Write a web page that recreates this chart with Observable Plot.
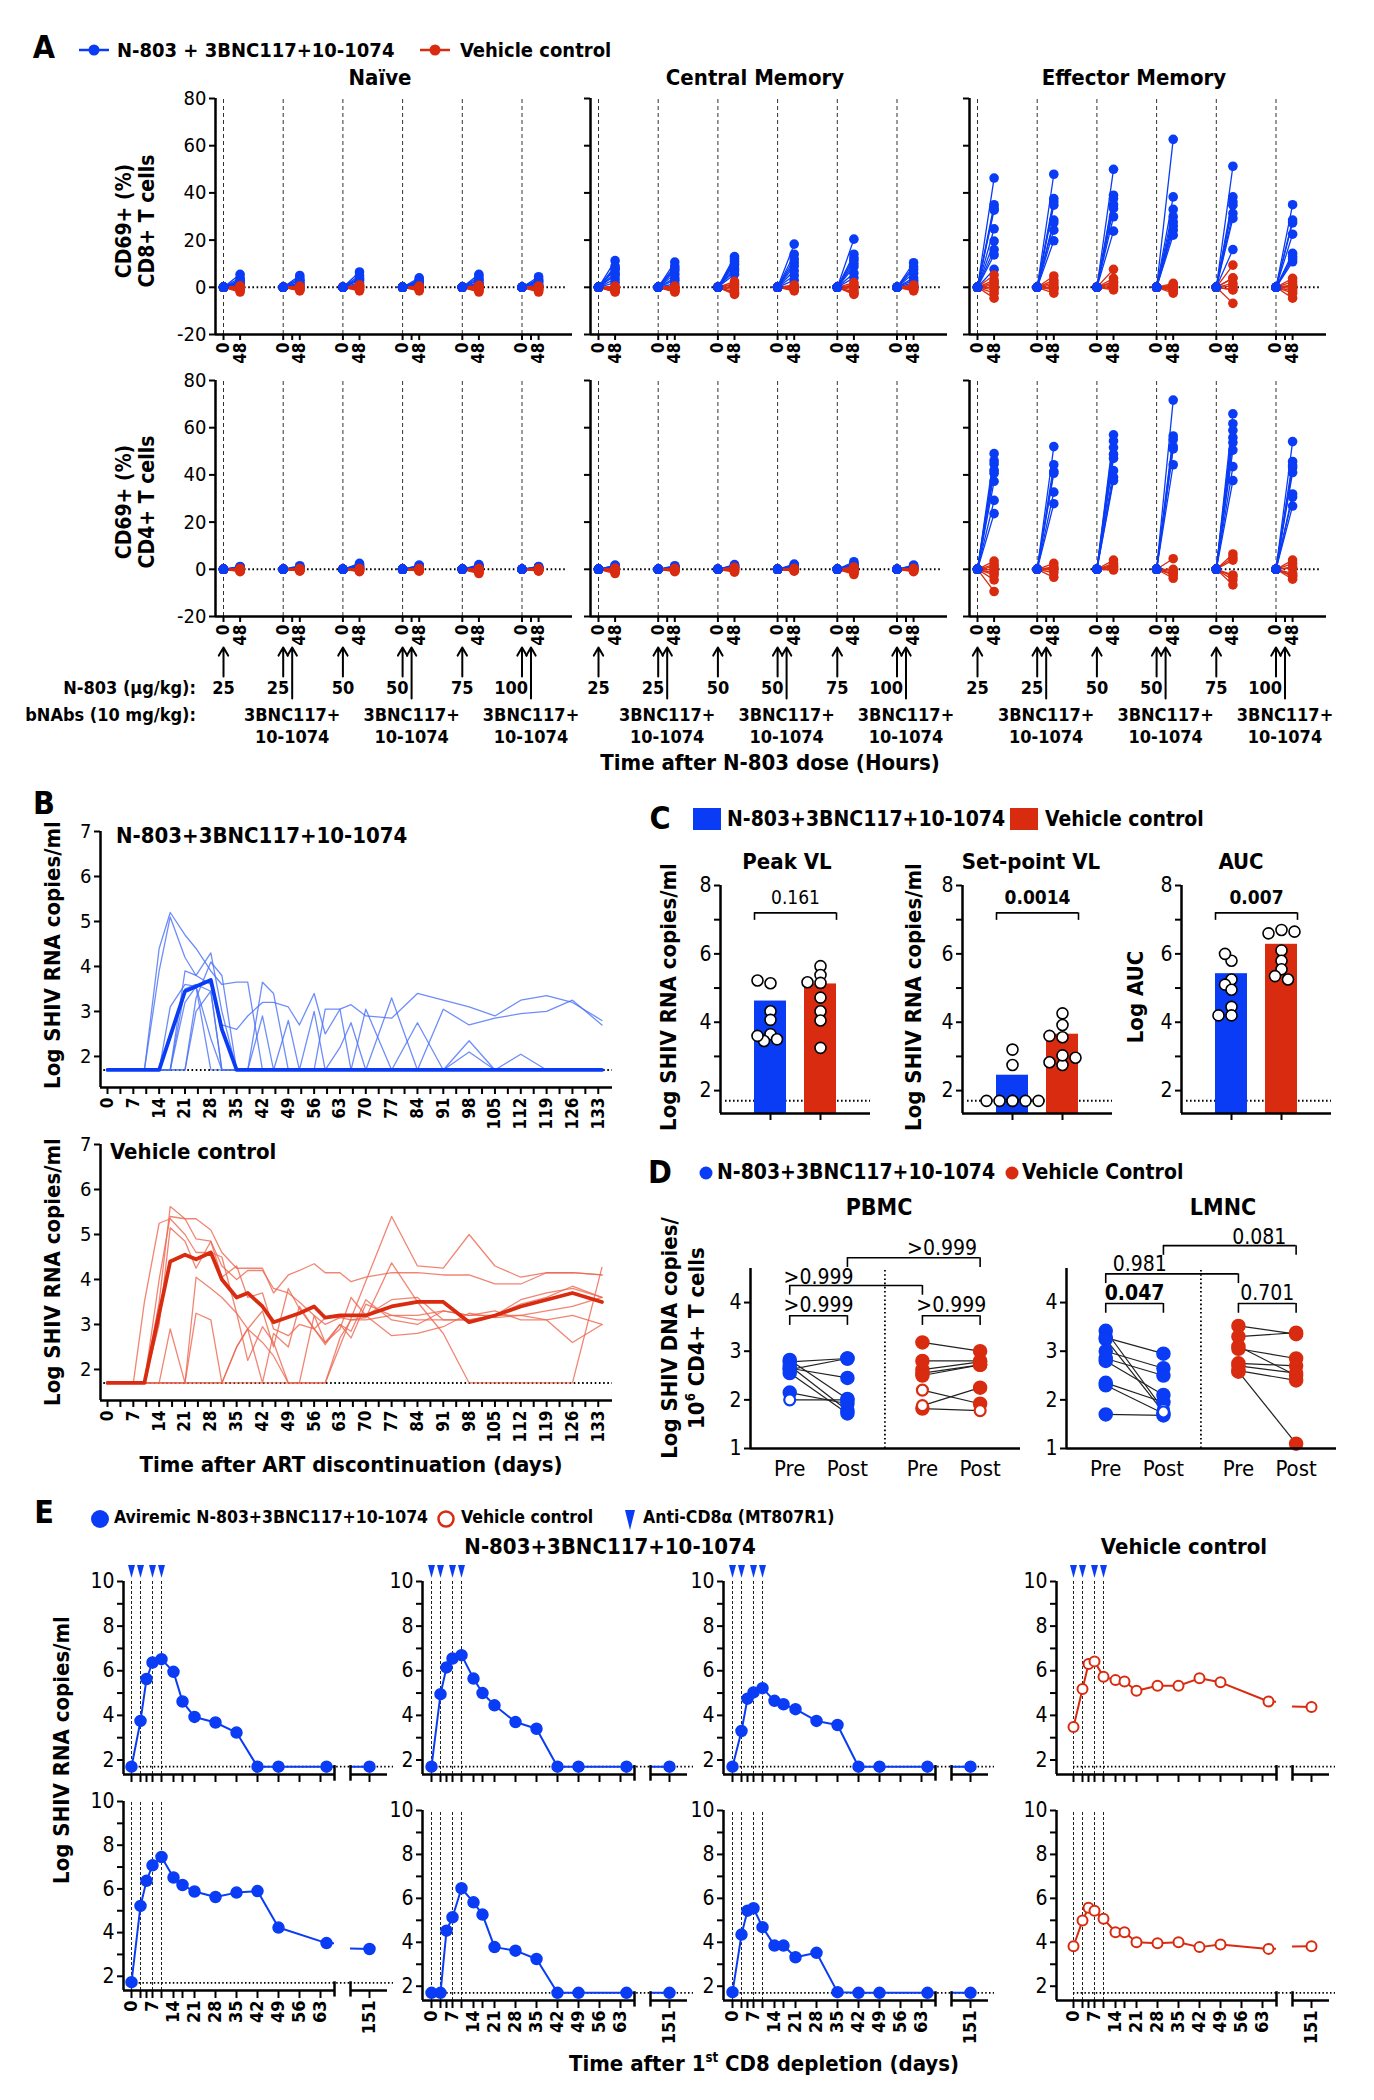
<!DOCTYPE html>
<html><head><meta charset="utf-8">
<script src="https://cdn.jsdelivr.net/npm/d3@7"></script>
<script src="https://cdn.jsdelivr.net/npm/@observablehq/plot@0.6"></script>
<style>
html,body{margin:0;padding:0;background:#fff;}
#fig{position:relative;width:1374px;height:2100px;overflow:hidden;font-family:"Liberation Sans Narrow","Arial Narrow","DejaVu Sans Condensed",sans-serif;color:#000;}
.t{position:absolute;white-space:nowrap;line-height:1;}
</style></head><body><div id="fig"></div>
<script>
// ================= DATA =================
// ---- Panel A: CD69+ (%) change at 48 h after each N-803 dose (6 doses), per animal ----
const aDoses = [25, 25, 50, 50, 75, 100];
const aBnab = [false, true, false, true, false, true];
const aBnabHour = 26;
const aSubsets = ["Naïve", "Central Memory", "Effector Memory"];
const a8NaiveN = [[5.5,4,3,2.5,1.5,1,2,0.5],[5,4,3,2,1,1.5,0.5,3],[6.5,5,4,3,2,1,3.5,0.5],[4,3,2,1,1.5,0.5,2.5,3],[5.5,4.5,3,2,1,0.5,3.5,1.5],[4.5,3,2,1,0.5,2.5,1,3.5]];
const a8NaiveV = [[-2,-1,0,0.5,-0.5,-1.5,-0.5,0.5],[-1.5,-1,0,0.5,-0.5,0,-1,0],[-1.5,-1,0,0.5,1,-0.5,0,-0.8],[-1.5,-1,0,0.5,-0.5,0,-0.7,0.3],[-2,-1.5,0,0.5,-0.5,-1,0.8,-0.3],[-2,-1,0,0.5,-0.5,-1.5,0.3,-0.8]];
const a8CmN = [[11.3,9,7.5,6,5,3.5,2,8],[10.7,9,7,5.5,4,3,1.5,8],[13,12,11,9.5,8,7,5.5,10],[18.3,14,10.5,9,7,5,3,12],[20.4,14,12.5,11.5,10,8.7,6,4],[10.4,8.7,7.5,6,4,3,2,1]];
const a8CmV = [[-2,-1.5,-1,-0.5,0,0.5,-1.8,-0.3],[-2,-1.5,-1,0,0.5,-0.5,-1.8,-0.3],[-3,-2,-1,0,1,2.5,-2.5,1.5],[-1.5,-1,-0.5,0,0.5,1,-0.8,0.3],[-3,-2,-1,0,1,2,-2.5,0.5],[-1.5,-1,-0.5,0,0.5,1,-0.8,0.3]];
const a8EmN = [[46.3,35,33.6,32.7,24.8,19.6,16,13.7,7.6],[47.9,37.6,36.2,34.8,28.5,27.3,24.2,19.7],[50,39,37.6,35,33.4,29.9,23.8],[62.7,38.3,33,29.9,27.7,26,24.2,22.1],[51.3,38.3,36.2,34.8,31.3,29.2,16],[35,28.5,27.3,22.5,14.4,13,10.8,12]];
const a8EmV = [[5.2,3,1,-1,-2.5,-4.6,2,0],[4.8,3,1,-1,-2.5,0,2,-0.5],[7.6,3.8,2.4,0.3,-1.1,1,2,-0.5],[1.7,-0.4,-2.5,0.5,1,-1,0,-1.5],[9.4,3.8,1.7,-1.1,-6.8,-1,0.5,4],[3.8,2.4,-0.4,-2.5,-4.6,1,0.5,-1.5]];
const a4NaiveN = [[1,0.5,1.2,0.3,0.8,0.6,0.2,0.9],[1,0.5,1.5,0.3,0.8,0.6,0.2,1.1],[2.5,1.5,1,0.5,0.3,0.8,2,1.2],[1.5,0.5,1.8,0.3,0.8,0.6,0.2,1.1],[2,1.5,1,0.5,0.3,0.8,1.2,0.6],[1,0.5,1.2,0.3,0.8,0.6,0.2,0.9]];
const a4NaiveV = [[-1,-0.5,0,0.3,-0.3,-0.8,0.2,-0.2],[-0.8,-0.4,0,0.3,-0.3,-0.6,0.2,-0.2],[-1,-0.5,0,0.3,-0.3,-0.8,0.2,-0.2],[-0.8,-0.4,0,0.3,-0.3,-0.6,0.2,-0.2],[-1.8,-1,-0.5,0,0.3,-1.3,0.2,-0.2],[-0.8,-0.4,0,0.3,-0.3,-0.6,0.2,-0.2]];
const a4CmN = [[1.8,1.2,0.8,0.5,0.3,1,0.6,1.5],[1.5,1,0.7,0.4,0.2,0.9,0.5,1.2],[2,1.5,1,0.5,0.3,0.8,1.2,1.7],[2.2,1.6,1,0.5,0.3,0.8,1.2,1.9],[3.2,2.5,1.8,1.2,0.6,0.3,2,1],[1.8,1.2,0.8,0.5,0.3,1,0.6,1.5]];
const a4CmV = [[-1.8,-1,-0.5,0,0.5,-1.2,-0.3,0.2],[-1,-0.6,0,0.4,-0.3,-0.8,0.2,-0.2],[-1.2,-0.6,0,0.6,-0.3,-0.8,0.9,-0.2],[-0.8,-0.4,0,0.4,-0.3,-0.6,0.2,-0.2],[-2.2,-1.5,-0.8,0,0.5,-1.2,-0.3,1],[-1,-0.6,0,0.4,-0.3,-0.8,0.2,-0.2]];
const a4EmN = [[49,46,44.6,40.7,37.3,29.2,23.6,42],[52,44.3,41.5,40.7,32.7,27.8],[57,54.4,51.6,48.8,41.8,39,37.6,47],[71.7,56.5,55,52,51,44.3],[65.9,61.7,58.9,55.8,53.7,50.5,43.5,37.6],[54.1,45.7,43,41,31.9,30.6,26.8,44]];
const a4EmV = [[3.5,-0.3,-2.4,-4.5,-9.4,1,-1.5,2],[2.5,-0.3,-3.4,1,-1.5,0.5],[3.9,1.8,-0.3,0.8,2.5,1.2,0],[4.5,-1,-2.4,-3.8,-1.8,0],[6.5,3.9,-2.4,-4.5,-6.6,5,-3],[3.9,2.5,-1.7,-4.2,1,-3,0.5,-2.5]];

// ---- Panel B: plasma viral load after ART discontinuation ----
const bDays = [0,3,7,10,14,17,21,24,28,31,35,38,42,45,49,52,56,59,63,66,70,77,84,91,98,105,112,119,126,134];
const bN803 = [
  [1.7,1.7,1.7,1.7,4.4,5.2,4.7,4.4,3.9,3.6,3.65,3.65,1.7,1.7,1.7,1.7,1.7,1.7,1.7,1.7,1.7,1.7,1.7,1.7,1.7,1.7,1.7,1.7,1.7,1.7],
  [1.7,1.7,1.7,1.7,3.9,5.1,4.2,3.8,3.6,2.7,2.6,2.9,3.2,3.2,3.1,2.7,3.4,2.5,3.05,3.15,2.9,2.85,3.4,3.25,3.1,2.9,3.25,3.35,3.2,2.8],
  [1.7,1.7,1.7,1.7,1.7,1.7,3.9,3.8,4.3,3.0,1.7,1.7,3.65,3.4,1.7,1.7,1.7,1.7,1.7,1.7,3.05,1.7,2.75,1.7,2.35,1.7,1.7,1.7,1.7,1.7],
  [1.7,1.7,1.7,1.7,1.7,3.1,3.6,3.55,2.4,1.7,1.7,1.7,2.9,1.7,2.8,1.7,3.0,1.7,1.7,1.7,1.7,1.7,1.7,3.05,2.7,2.85,2.95,3.0,3.25,2.7],
  [1.7,1.7,1.7,1.7,1.7,1.7,1.7,3.3,4.1,3.8,1.7,1.7,1.7,1.7,1.7,1.7,1.7,3.05,3.05,1.7,1.7,3.3,1.7,1.7,1.7,1.7,1.7,1.7,1.7,1.7],
  [1.7,1.7,1.7,1.7,1.7,1.7,3.5,3.6,3.45,1.7,1.7,1.7,1.7,1.7,1.7,1.7,1.7,1.7,2.2,2.75,1.7,1.7,1.7,1.7,2.1,1.7,2.05,1.7,1.7,1.7],
  [1.7,1.7,1.7,1.7,1.7,1.7,1.7,3.0,3.45,1.7,1.7,1.7,1.7,1.7,1.7,1.7,1.7,1.7,1.7,1.7,1.7,1.7,1.7,1.7,1.7,1.7,1.7,1.7,1.7,1.7],
  [1.7,1.7,1.7,1.7,1.7,1.7,3.2,3.55,1.7,1.7,1.7,1.7,1.7,1.7,1.7,1.7,1.7,1.7,1.7,1.7,1.7,1.7,1.7,1.7,1.7,1.7,1.7,1.7,1.7,1.7]
];
const bN803MedDays = [0,14,21,28,31,35,134];
const bN803Med = [1.7,1.7,3.45,3.7,2.6,1.7,1.7];
const bVeh = [
  [1.7,1.7,1.7,1.7,3.5,5.62,5.35,4.9,4.85,4.3,4.0,4.2,4.2,3.8,3.7,3.5,3.2,3.0,3.15,3.1,3.1,3.2,3.2,3.3,3.2,3.2,3.2,3.3,3.4,3.6],
  [1.7,1.7,1.7,1.7,4.0,5.4,5.35,5.35,5.1,4.6,4.25,4.25,4.25,3.7,4.1,4.2,4.35,4.15,4.15,3.95,4.05,4.15,4.15,4.1,4.1,3.9,3.9,4.15,4.15,4.1],
  [1.7,1.7,1.7,1.7,3.0,5.15,4.85,4.25,4.85,4.05,4.3,3.6,3.7,2.9,2.75,3.0,2.9,2.55,3.0,2.85,3.55,3.1,3.0,3.3,3.2,3.3,3.1,3.1,3.2,3.0],
  [1.7,1.7,1.7,3.5,5.25,5.35,5.0,4.6,4.6,4.5,3.25,2.9,3.3,2.5,3.8,3.35,2.9,3.15,3.15,3.2,3.2,2.75,2.8,2.95,3.25,3.15,3.2,3.1,2.6,3.0],
  [1.7,1.7,1.7,1.7,1.7,2.9,1.7,4.05,3.8,3.6,3.25,2.2,2.95,2.6,1.7,1.7,3.2,2.6,2.9,3.6,3.2,3.55,3.6,3.1,3.1,3.2,3.55,3.7,3.8,3.6],
  [1.7,1.7,1.7,1.7,1.7,1.7,1.7,3.25,3.1,1.7,2.5,2.9,1.7,2.8,2.5,3.4,2.9,2.6,3.0,2.7,3.45,3.2,3.1,3.1,3.1,3.2,3.45,3.6,3.85,3.6],
  [1.7,1.7,1.7,1.7,1.7,1.7,1.7,1.7,1.7,1.7,1.7,1.7,1.7,1.7,1.7,1.7,1.7,1.7,null,null,null,5.4,4.3,4.25,5.0,4.3,4.05,4.15,4.15,4.1],
  [1.7,1.7,1.7,1.7,1.7,1.7,1.7,1.7,1.7,1.7,2.5,2.9,2.6,2.3,1.7,1.7,1.7,1.7,2.7,3.1,3.15,4.37,3.5,2.8,1.7,1.7,1.7,1.7,1.7,4.27]
];
const bVehMedDays = [0,10,17,21,24,28,31,35,38,42,45,52,56,59,63,70,77,84,91,98,105,112,119,126,134];
const bVehMed = [1.7,1.7,4.4,4.55,4.45,4.6,4.0,3.6,3.7,3.4,3.05,3.25,3.4,3.15,3.2,3.2,3.4,3.5,3.5,3.05,3.2,3.4,3.55,3.7,3.5];

// ---- Panel C: peak VL, set-point VL, AUC ----
const cTitles = ["Peak VL", "Set-point VL", "AUC"];
const cYLabels = ["Log SHIV RNA copies/ml", "Log SHIV RNA copies/ml", "Log AUC"];
const cBarN = [4.62, 2.45, 5.42];
const cBarV = [5.12, 3.65, 6.28];
const cPtsN = [[5.14,5.22,4.32,4.07,3.65,3.45,3.5,3.6],[3.2,2.75,1.7,1.7,1.7,1.7,1.7,1.7],[5.8,6.0,5.25,5.1,4.95,4.45,4.2,4.2]];
const cPtsV = [[5.64,5.38,5.15,5.17,4.72,4.32,4.05,3.25],[4.26,3.92,3.56,3.6,2.75,3.03,2.83,2.96],[6.7,6.6,6.65,6.1,5.8,5.55,5.35,5.25]];
const cP = ["0.161", "0.0014", "0.007"];
const cPBold = [false, true, true];

// ---- Panel D: cell-associated SHIV DNA pre/post ----
const dTissues = ["PBMC", "LMNC"];
const dPbmcNPre = [2.82,2.78,2.70,2.62,2.55,2.65,2.15,2.0];
const dPbmcNPost = [2.02,2.85,1.78,2.85,1.72,2.45,1.92,2.0];
const dPbmcNPreOpen = [0,0,0,0,0,0,0,1];
const dPbmcNPostOpen = [0,0,0,0,0,0,0,0];
const dPbmcVPre = [3.18,2.8,2.62,2.55,2.5,2.2,1.88,1.82];
const dPbmcVPost = [3.0,2.8,2.78,2.72,2.72,1.92,2.25,1.78];
const dPbmcVPreOpen = [0,0,0,0,0,1,1,0];
const dPbmcVPostOpen = [0,0,0,0,0,0,0,1];
const dLmncNPre = [3.42,3.28,3.25,3.0,2.85,2.8,2.35,2.3,1.7];
const dLmncNPost = [1.8,2.95,1.75,2.65,2.5,2.1,1.95,1.72,1.68];
const dLmncNPreOpen = [0,0,0,0,0,0,0,0,0];
const dLmncNPostOpen = [1,0,1,0,0,0,0,0,0];
const dLmncVPre = [3.52,3.3,3.1,3.05,2.75,2.7,2.6,2.58];
const dLmncVPost = [3.35,3.38,2.5,2.85,2.7,2.55,2.4,1.1];
const dLmncVPreOpen = [0,0,0,0,0,0,0,0];
const dLmncVPostOpen = [0,0,0,0,0,0,0,0];
const dPbmcP = [">0.999", ">0.999", ">0.999", ">0.999"]; // pre-post N, pre-post V, pre N vs V, post N vs V
const dLmncP = ["0.047", "0.701", "0.981", "0.081"];
const dLmncPBold = [true, false, false, false];

// ---- Panel E: CD8 depletion ----
const eDays = [0,3,5,7,10,14,17,21,28,35,42,49,65,151];
const eDoseDays = [0,3,7,10];
const eTicks = [0,3,5,7,10,14,17,21,28,35,42,49,56,63];
const eTop = [
  [1.7,3.75,5.63,6.37,6.52,5.95,4.62,3.93,3.68,3.23,1.7,1.7,1.7,1.7],
  [1.7,4.95,6.15,6.55,6.7,5.65,5.0,4.45,3.7,3.4,1.7,1.7,1.7,1.7],
  [1.7,3.3,4.75,5.03,5.22,4.65,4.5,4.28,3.75,3.57,1.7,1.7,1.7,1.7],
  [3.48,5.18,6.3,6.42,5.73,5.58,5.52,5.1,5.33,5.33,5.66,5.48,4.62,4.38]
];
const eBottom = [
  [1.73,5.22,6.37,7.08,7.46,6.52,6.18,5.88,5.63,5.83,5.9,4.23,3.52,3.25],
  [1.7,1.7,4.53,5.14,6.46,5.82,5.26,3.78,3.62,3.24,1.7,1.7,1.7,1.7],
  [1.73,4.35,5.44,5.55,4.69,3.85,3.85,3.32,3.52,1.73,1.7,1.7,1.7,1.7],
  [3.82,4.99,5.57,5.44,5.07,4.46,4.46,4.0,3.96,4.0,3.78,3.9,3.7,3.82]
];
const eArms = ["N", "N", "N", "V"];

// ================= STYLE / HELPERS =================
const BLUE = "#0a3cf5", RED = "#d92b10", BLUE_LT = "#4a70f8", RED_LT = "#ee6650";
const FONT = '"Liberation Sans Narrow","Arial Narrow","DejaVu Sans Condensed",sans-serif';
const fig = document.getElementById("fig");

function chart(o) {
  const {left, top, fw, fh, ml = 50, mr = 10, mt = 10, mb = 50, x, y, marks} = o;
  const svg = Plot.plot({
    width: fw + ml + mr, height: fh + mt + mb,
    marginLeft: ml, marginRight: mr, marginTop: mt, marginBottom: mb,
    x: {...x, axis: null}, y: {...y, axis: null},
    style: {fontFamily: FONT, fontSize: "18px", color: "#000", background: "transparent", overflow: "visible"},
    marks: marks.filter(Boolean)
  });
  svg.style.position = "absolute";
  svg.style.left = (left - ml) + "px";
  svg.style.top = (top - mt) + "px";
  fig.appendChild(svg);
  return svg;
}
function txt(s, x, y, o = {}) {
  const {size = 20, weight = "bold", anchor = "middle", rot = 0, color = "#000", html = false, ls = 0} = o;
  const d = document.createElement("div");
  d.className = "t";
  if (html) d.innerHTML = s; else d.textContent = s;
  const tx = anchor === "middle" ? "-50%" : anchor === "end" ? "-100%" : "0%";
  d.style.left = x + "px"; d.style.top = y + "px";
  d.style.fontSize = size + "px"; d.style.fontWeight = weight; d.style.color = color;
  if (ls) d.style.letterSpacing = ls + "px";
  d.style.transform = `translate(${tx},-50%) rotate(${rot}deg)`;
  fig.appendChild(d);
  return d;
}
function icon(inner, cx, cy, w, h) {
  const d = document.createElement("div");
  d.className = "t";
  d.style.left = (cx - w / 2) + "px"; d.style.top = (cy - h / 2) + "px";
  d.innerHTML = `<svg width="${w}" height="${h}" viewBox="${-w/2} ${-h/2} ${w} ${h}" style="display:block;overflow:visible">${inner}</svg>`;
  fig.appendChild(d);
}
const downTri = {draw(ctx, size) { const s = Math.sqrt(size); const w = s * 0.28, h = s * 1.05; ctx.moveTo(-w, -h / 2); ctx.lineTo(w, -h / 2); ctx.lineTo(0, h / 2); ctx.closePath(); }};
function bracket(x1, x2, y, drop, opts = {}) {
  return [
    Plot.ruleY([y], {x1, x2, stroke: "#000", strokeWidth: 1.6, ...opts}),
    Plot.ruleX([x1, x2], {y1: y - drop, y2: y, stroke: "#000", strokeWidth: 1.6, ...opts})
  ];
}

// ================= PANEL A =================
txt("A", 44, 47, {size: 32, weight: 900});
icon(`<line x1="-15" x2="15" stroke="${BLUE}" stroke-width="2.5"/><circle r="5.5" fill="${BLUE}"/>`, 94, 50, 32, 14);
txt("N-803 + 3BNC117+10-1074", 117, 50, {anchor: "start", size: 20});
icon(`<line x1="-15" x2="15" stroke="${RED}" stroke-width="2.5"/><circle r="5.5" fill="${RED}"/>`, 435, 50, 32, 14);
txt("Vehicle control", 460, 50, {anchor: "start", size: 20});

const A_X0 = [215, 590, 969], A_TOP = [98, 380], A_W = 357, A_H = 236;
const A_PX = 16.6 / 48;
const A_STEP = 59.7 / A_PX;
const aXdom = [-8 / A_PX, (A_W - 8) / A_PX];
const aTicks = [], aTickLab = new Map();
aDoses.forEach((d, g) => {
  const b = g * A_STEP;
  aTicks.push(b); aTickLab.set(b, "0");
  if (aBnab[g]) { aTicks.push(b + aBnabHour); aTickLab.set(b + aBnabHour, ""); }
  aTicks.push(b + 48); aTickLab.set(b + 48, "48");
});
function aRows(vals, arm) {
  const out = [];
  vals.forEach((grp, g) => grp.forEach((v, i) => {
    const id = `${arm}${g}_${i}`;
    out.push({id, h: 0, x: g * A_STEP, y: 0});
    out.push({id, h: 48, x: g * A_STEP + 48, y: v});
  }));
  return out;
}
const aSets = [
  [[a8NaiveN, a8NaiveV], [a8CmN, a8CmV], [a8EmN, a8EmV]],
  [[a4NaiveN, a4NaiveV], [a4CmN, a4CmV], [a4EmN, a4EmV]]
];
aSubsets.forEach((s, c) => txt(s, A_X0[c] + 165, 78, {size: 22}));
for (let r = 0; r < 2; r++) {
  for (let c = 0; c < 3; c++) {
    const blue = aRows(aSets[r][c][0], "N"), red = aRows(aSets[r][c][1], "V");
    chart({left: A_X0[c], top: A_TOP[r], fw: A_W, fh: A_H, ml: 50, mr: 10, mt: 10, mb: 40,
      x: {domain: aXdom}, y: {domain: [-20, 80]},
      marks: [
        Plot.ruleX(aDoses.map((d, g) => g * A_STEP), {y1: -20, y2: 80, stroke: "#333", strokeWidth: 1, strokeDasharray: "4,3"}),
        Plot.ruleY([0], {x1: 0, x2: aXdom[1] - 6 / A_PX, stroke: "#000", strokeWidth: 2, strokeDasharray: "1.6,2.6"}),
        Plot.line(blue, {x: "x", y: "y", z: "id", stroke: BLUE, strokeWidth: 1.3}),
        Plot.dot(blue, {x: "x", y: "y", fill: BLUE, r: 4.8}),
        Plot.line(red, {x: "x", y: "y", z: "id", stroke: RED, strokeWidth: 1.3}),
        Plot.dot(red, {x: "x", y: "y", fill: RED, r: 4.8}),
        Plot.dot(blue.filter(d => d.h === 0), {x: "x", y: "y", fill: BLUE, r: 4.8}),
        Plot.ruleX([aXdom[0]], {y1: -20, y2: 80, stroke: "#000", strokeWidth: 2.5}),
        Plot.ruleY([-20], {x1: aXdom[0], x2: aXdom[1], stroke: "#000", strokeWidth: 2.5}),
        Plot.axisY([-20, 0, 20, 40, 60, 80], {tickSize: 6, tickPadding: 3, tickFormat: c === 0 ? (d => String(d)) : (() => ""), fontSize: 20, strokeWidth: 2, label: null}),
        Plot.axisX(aTicks, {tickSize: 6, tickPadding: 2, tickRotate: -90, tickFormat: v => aTickLab.get(v), fontSize: 17, fontWeight: "bold", strokeWidth: 2, label: null})
      ]});
  }
}
txt("CD69+ (%)", 124, 221, {rot: -90, size: 21});
txt("CD8+ T cells", 147, 221, {rot: -90, size: 21});
txt("CD69+ (%)", 124, 502, {rot: -90, size: 21});
txt("CD4+ T cells", 147, 502, {rot: -90, size: 21});

// dosing annotation strip
const aIdx = aDoses.map((d, g) => g);
for (let c = 0; c < 3; c++) {
  chart({left: A_X0[c], top: 640, fw: A_W, fh: 110, ml: 50, mr: 10, mt: 0, mb: 0,
    x: {domain: aXdom}, y: {domain: [0, 110], reverse: true},
    marks: [
      Plot.arrow(aIdx, {x1: g => g * A_STEP, x2: g => g * A_STEP, y1: 36, y2: 7, headLength: 7, strokeWidth: 2, stroke: "#000"}),
      Plot.arrow(aIdx.filter(g => aBnab[g]), {x1: g => g * A_STEP + aBnabHour, x2: g => g * A_STEP + aBnabHour, y1: 58, y2: 7, headLength: 7, strokeWidth: 2, stroke: "#000"}),
      Plot.text(aIdx.filter(g => !aBnab[g]), {x: g => g * A_STEP, y: 48, text: g => String(aDoses[g]), fontWeight: "bold", fontSize: 18}),
      Plot.text(aIdx.filter(g => aBnab[g]), {x: g => g * A_STEP + aBnabHour, y: 48, dx: -3, textAnchor: "end", text: g => String(aDoses[g]), fontWeight: "bold", fontSize: 18}),
      Plot.text(aIdx.filter(g => aBnab[g]), {x: g => g * A_STEP + aBnabHour, y: 75, text: () => "3BNC117+", fontWeight: "bold", fontSize: 18}),
      Plot.text(aIdx.filter(g => aBnab[g]), {x: g => g * A_STEP + aBnabHour, y: 97, text: () => "10-1074", fontWeight: "bold", fontSize: 18})
    ]});
}
txt("N-803 (μg/kg):", 196, 688, {anchor: "end", size: 18});
txt("bNAbs (10 mg/kg):", 196, 715, {anchor: "end", size: 18});
txt("Time after N-803 dose (Hours)", 770, 763, {size: 22});

// ================= PANEL B =================
txt("B", 44, 803, {size: 32, weight: 900});
const B_LEFT = 100, B_W = 512, B_TOP = [831, 1144], B_H = 256;
const B_PX = 3.69;
const bXdom = [-7 / B_PX, (B_W - 7) / B_PX];
const bYdom = [1.31, 7];
const bTicks = d3.range(0, 134, 3.5);
function bChart(r, series, medDays, medVals, thin, thick) {
  const rows = [];
  series.forEach((s, k) => s.forEach((v, i) => { if (v != null) rows.push({id: k, d: bDays[i], v}); }));
  const med = medDays.map((d, i) => ({d, v: medVals[i]}));
  chart({left: B_LEFT, top: B_TOP[r], fw: B_W, fh: B_H, ml: 45, mr: 10, mt: 15, mb: 60,
    x: {domain: bXdom}, y: {domain: bYdom},
    marks: [
      Plot.ruleY([1.7], {x1: -1, x2: bXdom[1], stroke: "#000", strokeWidth: 2, strokeDasharray: "1.6,2.6"}),
      Plot.line(rows, {x: "d", y: "v", z: "id", stroke: thin, strokeWidth: 1.3, strokeOpacity: 0.8}),
      Plot.line(med, {x: "d", y: "v", stroke: thick, strokeWidth: 3.8}),
      Plot.ruleX([bXdom[0]], {y1: bYdom[0], y2: 7, stroke: "#000", strokeWidth: 2.5}),
      Plot.ruleY([bYdom[0]], {x1: bXdom[0], x2: bXdom[1], stroke: "#000", strokeWidth: 2.5}),
      Plot.axisY([2, 3, 4, 5, 6, 7], {tickSize: 6, tickPadding: 3, fontSize: 20, strokeWidth: 2, label: null}),
      Plot.axisX(bTicks, {tickSize: 7, tickPadding: 3, tickRotate: -90, tickFormat: v => v % 7 === 0 ? String(v) : "", fontSize: 17, fontWeight: "bold", strokeWidth: 2, label: null})
    ]});
}
bChart(0, bN803, bN803MedDays, bN803Med, BLUE_LT, BLUE);
bChart(1, bVeh, bVehMedDays, bVehMed, RED_LT, RED);
txt("N-803+3BNC117+10-1074", 116, 836, {anchor: "start", size: 22});
txt("Vehicle control", 110, 1152, {anchor: "start", size: 22});
txt("Log SHIV RNA copies/ml", 53, 955, {rot: -90, size: 22});
txt("Log SHIV RNA copies/ml", 53, 1272, {rot: -90, size: 22});
txt("Time after ART discontinuation (days)", 351, 1465, {size: 22});

// ================= PANEL C =================
txt("C", 660, 818, {size: 32, weight: 900});
icon(`<rect x="-14" y="-11" width="28" height="22" fill="${BLUE}"/>`, 707, 819, 28, 22);
txt("N-803+3BNC117+10-1074", 727, 819, {anchor: "start", size: 21});
icon(`<rect x="-14" y="-11" width="28" height="22" fill="${RED}"/>`, 1024, 819, 28, 22);
txt("Vehicle control", 1045, 819, {anchor: "start", size: 21});
const C_LEFT = [720, 962, 1181], C_TOP = 885, C_W = 150, C_H = 228;
const cYdom = [1.33, 8];
const C_PXX = C_W / 3, C_PXY = C_H / (cYdom[1] - cYdom[0]);
function dodge(vals) {
  const placed = [];
  return vals.map(v => {
    for (const k of [0, -1, 1, -2, 2, -3, 3, -4, 4]) {
      const ox = k * 6.5;
      if (placed.every(p => Math.hypot(p.ox - ox, (p.v - v) * C_PXY) >= 7.5)) { placed.push({ox, v}); return ox / C_PXX; }
    }
    return 0;
  });
}
for (let k = 0; k < 3; k++) {
  const bars = [{g: 1, v: cBarN[k], fill: BLUE}, {g: 2, v: cBarV[k], fill: RED}];
  const offN = dodge(cPtsN[k]), offV = dodge(cPtsV[k]);
  const pts = cPtsN[k].map((v, i) => ({x: 1 + offN[i], v})).concat(cPtsV[k].map((v, i) => ({x: 2 + offV[i], v})));
  chart({left: C_LEFT[k], top: C_TOP, fw: C_W, fh: C_H, ml: 35, mr: 10, mt: 10, mb: 20,
    x: {domain: [0, 3]}, y: {domain: cYdom},
    marks: [
      Plot.ruleY([1.7], {x1: 0.1, x2: 3, stroke: "#000", strokeWidth: 2, strokeDasharray: "1.6,2.4"}),
      Plot.rect(bars, {x1: d => d.g - 0.32, x2: d => d.g + 0.32, y1: cYdom[0], y2: "v", fill: "fill"}),
      Plot.dot(pts, {x: "x", y: "v", r: 5.5, fill: "white", stroke: "#000", strokeWidth: 1.6}),
      ...bracket(0.68, 2.32, 7.2, 0.22),
      Plot.text([cP[k]], {x: 1.5, y: 7.65, text: d => d, fontSize: 19, fontWeight: cPBold[k] ? "bold" : "normal"}),
      Plot.ruleX([0], {y1: cYdom[0], y2: 8, stroke: "#000", strokeWidth: 2.5}),
      Plot.ruleY([cYdom[0]], {x1: 0, x2: 3, stroke: "#000", strokeWidth: 2.5}),
      Plot.axisY([2, 3, 4, 5, 6, 7, 8], {tickSize: 6, tickPadding: 3, tickFormat: v => v % 2 === 0 ? String(v) : "", fontSize: 21, strokeWidth: 2, label: null}),
      Plot.axisX([1, 2], {tickSize: 7, tickFormat: () => "", strokeWidth: 2, label: null})
    ]});
  txt(cTitles[k], [787, 1031, 1241][k], 862, {size: 22});
}
txt(cYLabels[0], 669, 997, {rot: -90, size: 22});
txt(cYLabels[1], 914, 997, {rot: -90, size: 22});
txt(cYLabels[2], 1136, 997, {rot: -90, size: 22});

// ================= PANEL D =================
txt("D", 660, 1172, {size: 32, weight: 900});
icon(`<circle r="6.5" fill="${BLUE}"/>`, 706, 1173, 14, 14);
txt("N-803+3BNC117+10-1074", 717, 1172, {anchor: "start", size: 21});
icon(`<circle r="6.5" fill="${RED}"/>`, 1012, 1173, 14, 14);
txt("Vehicle Control", 1022, 1172, {anchor: "start", size: 21});
const D_LEFT = [750, 1066], D_TOP = 1268, D_W = 270, D_H = 180;
const dXdom = [0.32, 5.0], dYdom = [1, 4.7];
const dPos = (arm, t) => 1 + arm * 2.3 + t;
const dSets = [
  [[dPbmcNPre, dPbmcNPost, dPbmcNPreOpen, dPbmcNPostOpen], [dPbmcVPre, dPbmcVPost, dPbmcVPreOpen, dPbmcVPostOpen]],
  [[dLmncNPre, dLmncNPost, dLmncNPreOpen, dLmncNPostOpen], [dLmncVPre, dLmncVPost, dLmncVPreOpen, dLmncVPostOpen]]
];
const dBr = [
  {pp: 3.73, ppT: 3.95, pre: 4.35, preT: 4.53, preX: 1.5, post: 4.92, postT: 5.12, postX: 3.64, p: dPbmcP, bold: [false, false, false, false]},
  {pp: 3.98, ppT: 4.19, pre: 4.59, preT: 4.79, preX: 1.59, post: 5.17, postT: 5.35, postX: 3.66, p: dLmncP, bold: dLmncPBold}
];
for (let k = 0; k < 2; k++) {
  const links = [], dots = [];
  dSets[k].forEach((set, arm) => {
    const [pre, post, preO, postO] = set;
    const color = arm === 0 ? BLUE : RED;
    pre.forEach((v, i) => {
      links.push({x1: dPos(arm, 0), y1: v, x2: dPos(arm, 1), y2: post[i]});
      dots.push({x: dPos(arm, 0), y: v, color, open: !!preO[i]});
      dots.push({x: dPos(arm, 1), y: post[i], color, open: !!postO[i]});
    });
  });
  const B = dBr[k];
  chart({left: D_LEFT[k], top: D_TOP, fw: D_W, fh: D_H, ml: 35, mr: 10, mt: 10, mb: 40,
    x: {domain: dXdom}, y: {domain: dYdom},
    marks: [
      Plot.ruleX([(dPos(0, 1) + dPos(1, 0)) / 2], {y1: dYdom[0], y2: dYdom[1], stroke: "#000", strokeWidth: 1.8, strokeDasharray: "1.6,2.6"}),
      Plot.link(links, {x1: "x1", y1: "y1", x2: "x2", y2: "y2", stroke: "#222", strokeWidth: 1.2}),
      Plot.dot(dots.filter(d => !d.open), {x: "x", y: "y", r: 6.5, fill: "color", stroke: "color"}),
      Plot.dot(dots.filter(d => d.open), {x: "x", y: "y", r: 5.5, fill: "white", stroke: "color", strokeWidth: 2.2}),
      ...bracket(dPos(0, 0), dPos(0, 1), B.pp, 0.2),
      ...bracket(dPos(1, 0), dPos(1, 1), B.pp, 0.2),
      ...bracket(dPos(0, 0), dPos(1, 0), B.pre, 0.2),
      ...bracket(dPos(0, 1), dPos(1, 1), B.post, 0.2),
      Plot.text([0], {x: (dPos(0, 0) + dPos(0, 1)) / 2, y: B.ppT, text: () => B.p[0], fontSize: 21, fontWeight: B.bold[0] ? "bold" : "normal"}),
      Plot.text([0], {x: (dPos(1, 0) + dPos(1, 1)) / 2, y: B.ppT, text: () => B.p[1], fontSize: 21, fontWeight: B.bold[1] ? "bold" : "normal"}),
      Plot.text([0], {x: B.preX, y: B.preT, text: () => B.p[2], fontSize: 21, fontWeight: B.bold[2] ? "bold" : "normal"}),
      Plot.text([0], {x: B.postX, y: B.postT, text: () => B.p[3], fontSize: 21, fontWeight: B.bold[3] ? "bold" : "normal"}),
      Plot.ruleX([dXdom[0]], {y1: dYdom[0], y2: dYdom[1], stroke: "#000", strokeWidth: 2.5}),
      Plot.ruleY([dYdom[0]], {x1: dXdom[0], x2: dXdom[1], stroke: "#000", strokeWidth: 2.5}),
      Plot.axisY([1, 2, 3, 4], {tickSize: 6, tickPadding: 3, fontSize: 21, strokeWidth: 2, label: null}),
      Plot.axisX([dPos(0, 0), dPos(0, 1), dPos(1, 0), dPos(1, 1)], {tickSize: 0, tickPadding: 12, tickFormat: (v, i) => i % 2 === 0 ? "Pre" : "Post", fontSize: 22, label: null})
    ]});
  txt(dTissues[k], [879, 1223][k], 1207, {size: 23});
}
txt("Log SHIV DNA copies/", 670, 1338, {rot: -90, size: 22});
txt("10<sup style='font-size:0.6em'>6</sup> CD4+ T cells", 696, 1338, {rot: -90, size: 22, html: true});

// ================= PANEL E =================
txt("E", 44, 1512, {size: 32, weight: 900});
icon(`<circle r="9" fill="${BLUE}"/>`, 100, 1519, 20, 20);
txt("Aviremic N-803+3BNC117+10-1074", 114, 1518, {anchor: "start", size: 17.5});
icon(`<circle r="7.5" fill="white" stroke="${RED}" stroke-width="2.5"/>`, 446, 1519, 20, 20);
txt("Vehicle control", 461, 1518, {anchor: "start", size: 17.5});
icon(`<polygon points="-5,-10 5,-10 0,10" fill="${BLUE}"/>`, 630, 1520, 12, 22);
txt("Anti-CD8α (MT807R1)", 643, 1518, {anchor: "start", size: 17.5});
txt("N-803+3BNC117+10-1074", 610, 1547, {size: 22});
txt("Vehicle control", 1184, 1547, {size: 22});

const E_AX = [123, 422, 723, 1056], E_OFF = [8, 9, 9, 17];
const E_PX = 3.0;
const eYdom = [1.35, 10];
function eChart(col, row, vals) {
  const ax = E_AX[col], off = E_OFF[col];
  const top = row === 0 ? 1581 : (col === 0 ? 1801 : 1810);
  const bottom = row === 0 ? 1774 : (col === 0 ? 1990 : 2000);
  const fh = bottom - top;
  const arm = eArms[col];
  const pts = eDays.map((d, i) => ({d, v: vals[i]}));
  const color = arm === "N" ? BLUE : RED;
  const dotOpts = arm === "N" ? {fill: BLUE, stroke: BLUE, r: 5.5} : {fill: "white", stroke: RED, strokeWidth: 2, r: 5};
  const mainW = off + 203;
  const xd = [-off / E_PX, 203 / E_PX];
  const seg2Start = 219, seg2W = 37;
  const xd2 = [151 - 19 / E_PX, 151 - 19 / E_PX + seg2W / E_PX];
  const lab = row === 1;
  chart({left: ax, top, fw: mainW, fh, ml: 40, mr: 5, mt: 25, mb: 45,
    x: {domain: xd}, y: {domain: eYdom},
    marks: [
      Plot.ruleX(eDoseDays, {y1: eYdom[0], y2: 10, stroke: "#222", strokeWidth: 1, strokeDasharray: "3,2"}),
      Plot.ruleY([1.7], {x1: 0, x2: seg2Start / E_PX, stroke: "#000", strokeWidth: 1.8, strokeDasharray: "1.5,2.3"}),
      Plot.line(pts, {x: "d", y: "v", stroke: color, strokeWidth: 2, clip: true}),
      Plot.dot(pts, {x: "d", y: "v", ...dotOpts, clip: true}),
      row === 0 ? Plot.dot(eDoseDays, {x: d => d, y: () => 10, dy: -10, symbol: downTri, r: 7, fill: BLUE, stroke: "none"}) : null,
      Plot.ruleX([xd[0]], {y1: eYdom[0], y2: 10, stroke: "#000", strokeWidth: 2.5}),
      Plot.ruleY([eYdom[0]], {x1: xd[0], x2: xd[1], stroke: "#000", strokeWidth: 2.5}),
      Plot.ruleX([xd[1]], {y1: eYdom[0] - 0.3, y2: eYdom[0] + 0.4, stroke: "#000", strokeWidth: 2.5}),
      Plot.axisY([2, 3, 4, 5, 6, 7, 8, 9, 10], {tickSize: 6, tickPadding: 3, tickFormat: v => v % 2 === 0 ? String(v) : "", fontSize: 21, strokeWidth: 2, label: null}),
      Plot.axisX(eTicks, {tickSize: 8, tickPadding: 2, tickRotate: -90, tickFormat: v => lab && v % 7 === 0 ? String(v) : "", fontSize: 18, fontWeight: "bold", strokeWidth: 2, label: null})
    ]});
  chart({left: ax + off + seg2Start, top, fw: seg2W, fh, ml: 5, mr: 10, mt: 25, mb: 45,
    x: {domain: xd2}, y: {domain: eYdom},
    marks: [
      Plot.ruleY([1.7], {x1: xd2[0], x2: xd2[1] + 2, stroke: "#000", strokeWidth: 1.8, strokeDasharray: "1.5,2.3"}),
      Plot.line(pts, {x: "d", y: "v", stroke: color, strokeWidth: 2, clip: true}),
      Plot.dot(pts, {x: "d", y: "v", ...dotOpts, clip: true}),
      Plot.ruleY([eYdom[0]], {x1: xd2[0], x2: xd2[1], stroke: "#000", strokeWidth: 2.5}),
      Plot.ruleX([xd2[0]], {y1: eYdom[0] - 0.3, y2: eYdom[0] + 0.4, stroke: "#000", strokeWidth: 2.5}),
      Plot.axisX([151], {tickSize: 8, tickPadding: 2, tickRotate: -90, tickFormat: v => lab ? String(v) : "", fontSize: 18, fontWeight: "bold", strokeWidth: 2, label: null})
    ]});
}
for (let col = 0; col < 4; col++) {
  eChart(col, 0, eTop[col]);
  eChart(col, 1, eBottom[col]);
}
txt("Log SHIV RNA copies/ml", 62, 1750, {rot: -90, size: 22});
txt("Time after 1<sup style='font-size:0.6em'>st</sup> CD8 depletion (days)", 764, 2063, {size: 22, html: true});
</script></body></html>
